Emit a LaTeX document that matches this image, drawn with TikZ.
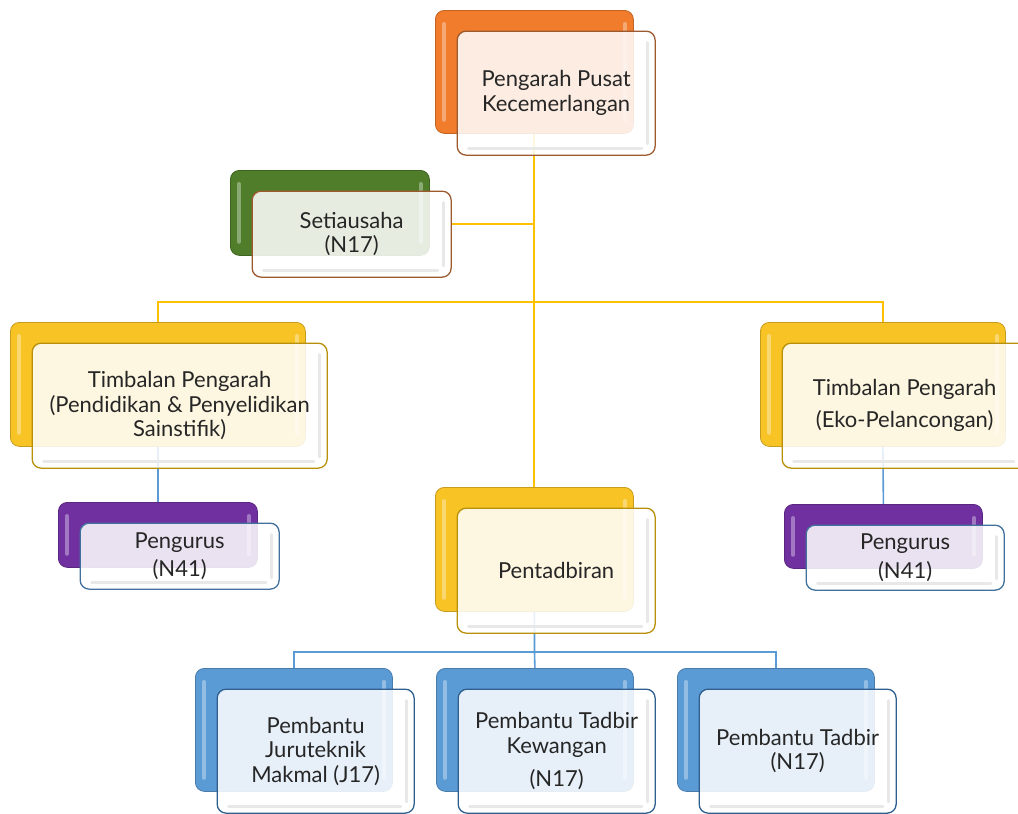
\documentclass[tikz,border=0pt]{standalone}
\usepackage{fontspec}
\setmainfont{Lato}
\usetikzlibrary{backgrounds}
\definecolor{cOrange}{HTML}{F07C2C}
\definecolor{cGreen}{HTML}{4F7D2A}
\definecolor{cYellow}{HTML}{F7C325}
\definecolor{cPurple}{HTML}{7030A0}
\definecolor{cBlue}{HTML}{5B9BD5}
\definecolor{bBrown}{HTML}{9C5A2E}
\definecolor{bGold}{HTML}{B8900A}
\definecolor{bSteel}{HTML}{41719C}
\definecolor{bNavy}{HTML}{2F5F8F}
\definecolor{lnYellow}{HTML}{FFC000}
\definecolor{lnBlue}{HTML}{5B9BD5}
\tikzset{
  backbox/.style={rounded corners=9pt, draw=#1!80!black, line width=0.8pt, fill=#1, anchor=north west, inner sep=0pt},
  frontbox/.style={rounded corners=9pt, draw=#1, line width=1.3pt, fill=white, fill opacity=0.86, text opacity=1, anchor=north west, inner sep=2pt, align=center, font=\fontsize{22}{24.5}\selectfont, text=black!85},
  hilite/.style={draw=white, draw opacity=0.35, line width=4pt, line cap=round},
  bevel/.style={draw=black!9, line width=3pt, line cap=round},
  ylink/.style={draw=lnYellow, line width=2pt},
  blink/.style={draw=lnBlue, line width=1.6pt}
}
\newcommand\orgunit[8]{%
  \node[backbox=#6, minimum width=#4, minimum height=#5] (#1B) at (#2,#3) {};
  \draw[hilite] ([shift={(9,14)}]#1B.north west) -- ([shift={(9,-14)}]#1B.south west);
  \draw[hilite] ([shift={(-9,14)}]#1B.north east) -- ([shift={(-9,-14)}]#1B.south east);
  \node[frontbox=#7, minimum width=#4, minimum height=#5+1] (#1) at (#2+21.5,#3+20.5) {#8};
  \draw[bevel] ([shift={(-8,12)}]#1.north east) -- ([shift={(-8,-12)}]#1.south east);
  \draw[bevel] ([shift={(12,-7)}]#1.south west) -- ([shift={(-14,-7)}]#1.south east);
}
\begin{document}
\begin{tikzpicture}[x=1pt,y=-1pt]
\useasboundingbox (0,0) rectangle (1018,814);
\orgunit{top}{435}{10}{198}{123}{cOrange}{bBrown}{Pengarah Pusat\\Kecemerlangan}
\orgunit{set}{230}{170}{199}{85}{cGreen}{bBrown}{Setiausaha\\(N17)}
\orgunit{tl}{10}{322}{295}{124}{cYellow}{bGold}{Timbalan Pengarah\\(Pendidikan \& Penyelidikan\\Sainstifik)}
\orgunit{tr}{760}{322}{245}{124}{cYellow}{bGold}{Timbalan Pengarah\\[8pt] (Eko-Pelancongan)}
\orgunit{pl}{58}{502}{199}{65}{cPurple}{bSteel}{Pengurus\\[4pt](N41)}
\orgunit{pent}{435}{487}{198}{124}{cYellow}{bGold}{Pentadbiran}
\orgunit{pr}{784}{504}{198}{64}{cPurple}{bSteel}{Pengurus\\[4pt](N41)}
\orgunit{ba}{195}{668}{197}{123}{cBlue}{bNavy}{Pembantu\\Juruteknik\\Makmal (J17)}
\orgunit{bb}{436}{668}{197}{123}{cBlue}{bNavy}{Pembantu Tadbir\\Kewangan\\[9pt](N17)}
\orgunit{bc}{677}{668}{197}{123}{cBlue}{bNavy}{Pembantu Tadbir\\(N17)}
\coordinate (sj) at (533.5,224);
\coordinate (hj) at (533.5,302);
\coordinate (bj) at (534.5,652);
\begin{scope}[on background layer]
  \draw[ylink] (topB.south) -- (pentB.north);
  \draw[ylink] (set.east |- sj) -- (sj);
  \draw[ylink] (tlB.north) |- (hj) -| (trB.north);
  \draw[blink] (tlB.south) -- (plB.north);
  \draw[blink] (trB.south) -- (prB.north);
  \draw[blink] (pentB.south) -- (bj);
  \draw[blink] (baB.north) |- (bj) -| (bcB.north);
  \draw[blink] (bj) -- (bbB.north);
\end{scope}
\end{tikzpicture}
\end{document}
